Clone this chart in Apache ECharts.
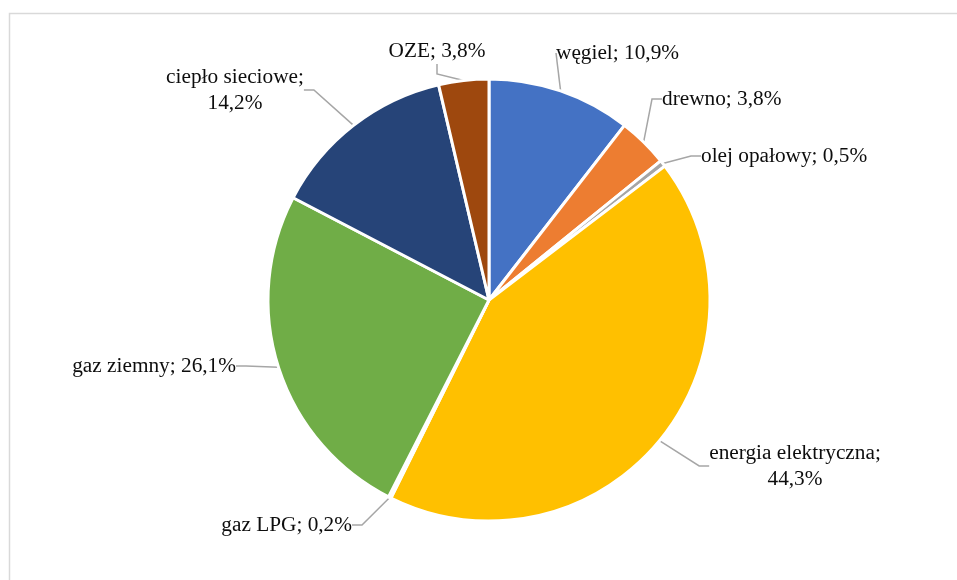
<!DOCTYPE html>
<html>
<head>
<meta charset="utf-8">
<script src="https://cdn.jsdelivr.net/npm/echarts@6/dist/echarts.min.js"></script>
<style>
html,body{margin:0;padding:0;background:#fff;}
#main{width:957px;height:580px;}
</style>
</head>
<body>
<div id="main"></div>
<script>
// Data
const categories = ['węgiel', 'drewno', 'olej opałowy', 'energia elektryczna', 'gaz LPG', 'gaz ziemny', 'ciepło sieciowe', 'OZE'];
const values = [10.9, 3.8, 0.5, 44.3, 0.2, 26.1, 14.2, 3.8];
const colors = ['#4472C4', '#ED7D31', '#A5A5A5', '#FFC000', '#5B9BD5', '#70AD47', '#264478', '#9E480E'];

// Label placement (layout only)
const labelPos = [
  {x: 556, y: 53, align: 'left'},
  {x: 662, y: 99, align: 'left'},
  {x: 701, y: 156, align: 'left'},
  {x: 795, y: 466, align: 'center'},
  {x: 352, y: 525, align: 'right'},
  {x: 236, y: 366, align: 'right'},
  {x: 235, y: 90, align: 'center'},
  {x: 437, y: 51, align: 'center'}
];
const breakLabel = [false, false, false, true, false, false, true, false];

const chart = echarts.init(document.getElementById('main'), null, {renderer: 'canvas'});
const fmt = v => v.toFixed(1).replace('.', ',') + '%';

chart.setOption({
  animation: false,
  backgroundColor: '#ffffff',
  graphic: [{
    type: 'rect',
    shape: {x: 9.5, y: 13.5, width: 1000, height: 1000},
    style: {fill: 'none', stroke: '#d9d9d9', lineWidth: 1.5},
    silent: true
  }],
  series: [{
    type: 'pie',
    center: [489, 300],
    radius: [0, 221],
    startAngle: 90,
    clockwise: true,
    avoidLabelOverlap: false,
    itemStyle: {borderColor: '#ffffff', borderWidth: 3},
    label: {
      show: true,
      position: 'outside',
      fontFamily: '"Liberation Serif", "Times New Roman", serif',
      fontSize: 21.3,
      lineHeight: 26,
      color: '#0d0d0d',
      align: 'center',
      formatter: p => p.name + ';' + (breakLabel[p.dataIndex] ? '\n' : ' ') + fmt(p.value)
    },
    labelLine: {
      show: true,
      length: 15,
      length2: 10,
      lineStyle: {color: '#a6a6a6', width: 1.5}
    },
    labelLayout: function (params) {
      const p = labelPos[params.dataIndex];
      return {x: p.x, y: p.y, align: p.align, verticalAlign: 'middle'};
    },
    data: categories.map((c, i) => ({name: c, value: values[i], itemStyle: {color: colors[i]}}))
  }]
});
</script>
</body>
</html>
